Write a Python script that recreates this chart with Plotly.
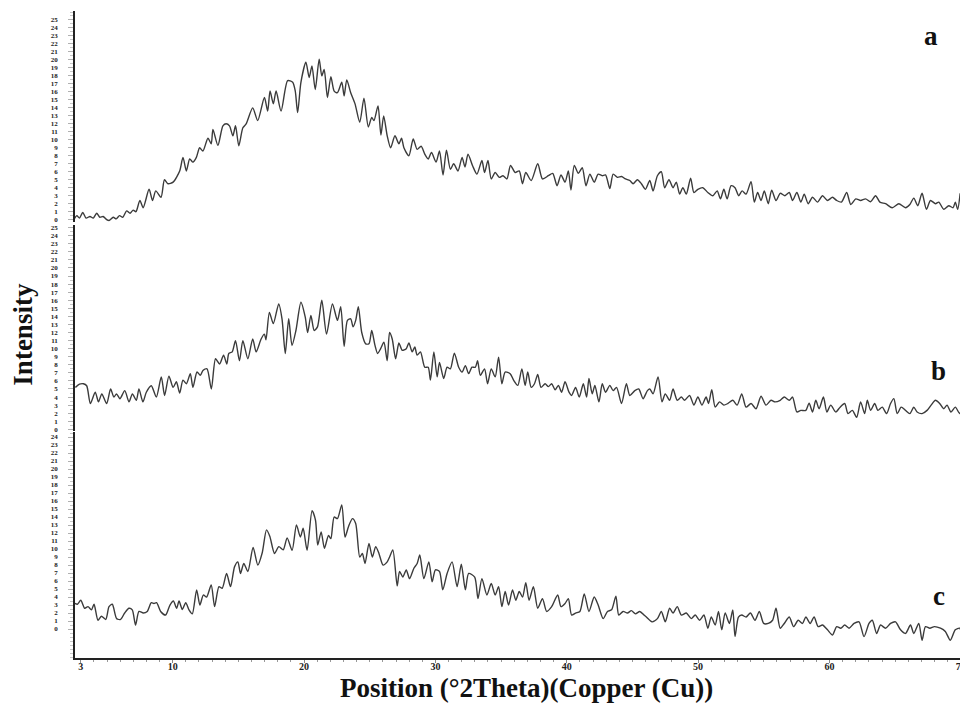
import plotly.graph_objects as go

# ---------------- data ----------------
A_X = [2.5, 2.7, 2.9, 3.15, 3.4, 3.7, 3.95, 4.21, 4.45, 4.7, 4.97, 5.15, 5.47, 5.7, 5.95, 6.2, 6.49, 6.75, 6.99, 7.2,
       7.5, 7.75, 8.2, 8.46, 8.71, 9.11, 9.37, 9.64, 10.03, 10.53, 10.78, 11.04, 11.29, 11.54, 11.8, 12.05, 12.3, 12.68,
       12.93, 13.06, 13.44, 13.82, 14.07, 14.32, 14.58, 14.78, 15.03, 15.34, 15.59, 16.09, 16.47, 16.98, 17.23, 17.41,
       17.66, 17.87, 18.25, 18.75, 19.13, 19.33, 19.51, 19.76, 20.14, 20.39, 20.6, 20.85, 21.15, 21.35, 21.53, 21.78,
       22.04, 22.29, 22.54, 22.87, 23.05, 23.25, 23.55, 23.88, 24.24, 24.56, 24.89, 25.15, 25.32, 25.63, 25.85, 26.06,
       26.33, 26.59, 26.92, 27.22, 27.42, 27.6, 27.98, 28.31, 28.61, 28.91, 29.19, 29.45, 29.7, 30.05, 30.31, 30.58,
       30.84, 31.14, 31.39, 31.72, 32.03, 32.25, 32.48, 32.83, 33.16, 33.54, 33.74, 34.0, 34.25, 34.55, 34.86, 35.14,
       35.44, 35.72, 36.07, 36.38, 36.63, 36.88, 37.29, 37.79, 38.15, 38.6, 38.93, 39.26, 39.56, 39.87, 40.12, 40.32,
       40.57, 40.88, 41.18, 41.46, 41.76, 42.09, 42.39, 42.7, 42.95, 43.28, 43.53, 43.86, 44.17, 44.47, 44.8, 45.05,
       45.38, 45.68, 45.99, 46.32, 46.57, 46.9, 47.2, 47.45, 47.78, 48.09, 48.34, 48.59, 48.84, 49.1, 49.43, 49.68,
       49.98, 50.36, 50.74, 51.12, 51.45, 51.7, 51.96, 52.21, 52.51, 52.81, 53.09, 53.35, 53.65, 54.03, 54.28, 54.53,
       54.79, 55.04, 55.34, 55.6, 55.93, 56.25, 56.61, 56.94, 57.19, 57.52, 57.82, 58.08, 58.38, 58.71, 59.09, 59.47,
       59.85, 60.23, 60.55, 60.91, 61.31, 61.62, 62.0, 62.37, 62.75, 63.13, 63.51, 63.84, 64.27, 64.78, 65.28, 65.79,
       66.12, 66.42, 66.72, 67.05, 67.38, 67.69, 68.07, 68.32, 68.7, 69.08, 69.41, 69.58, 69.76, 69.95]
A_Y = [0.1, 0.5, 0.2, 0.9, 0.2, 0.4, 0.2, 0.8, 0.3, 0.4, 0.0, -0.1, 0.3, 0.1, 0.5, 0.3, 1.1, 0.8, 1.2, 1.0,
       2.4, 1.5, 3.8, 2.4, 3.6, 2.8, 5.0, 4.5, 4.7, 6.1, 7.8, 6.1, 7.6, 7.2, 7.8, 9.0, 8.6, 10.2,
       9.5, 11.3, 9.3, 11.75, 12.0, 11.75, 10.5, 11.75, 9.25, 11.5, 12.0, 14.0, 12.4, 15.3, 13.6, 16.1,
       14.5, 16.1, 13.6, 17.4, 17.2, 16.1, 13.4, 17.2, 19.7, 17.8, 19.25, 16.3, 20.1, 18.0, 18.8, 15.3,
       17.9, 16.1, 15.9, 17.2, 15.5, 17.5, 15.9, 14.5, 12.2, 15.2, 11.6, 12.8, 12.4, 14.25, 10.6, 13.0,
       10.5, 9.0, 10.5, 9.5, 10.2, 9.0, 8.0, 10.1, 8.8, 9.2, 8.2, 7.6, 8.4, 7.2, 8.6, 5.6,
       8.7, 6.3, 7.0, 6.1, 7.8, 6.6, 8.2, 6.75, 5.7, 7.4, 5.9, 7.4, 5.1, 5.9, 5.3, 5.5,
       5.1, 6.8, 5.9, 6.1, 4.5, 5.9, 4.9, 7.0, 5.1, 5.5, 5.8, 4.25, 5.6, 4.7, 6.1, 3.7,
       6.8, 5.8, 6.5, 4.25, 5.7, 4.7, 5.7, 5.5, 5.6, 3.9, 5.7, 5.3, 5.4, 5.1, 4.9, 4.5,
       5.0, 4.5, 3.8, 4.9, 3.6, 5.5, 6.0, 4.0, 5.0, 4.0, 4.7, 3.2, 4.0, 3.2, 5.2, 3.4,
       3.8, 4.0, 3.4, 3.0, 3.6, 2.6, 3.8, 2.6, 4.25, 4.0, 3.0, 3.6, 3.2, 4.75, 2.2, 3.4,
       2.4, 3.6, 2.0, 3.7, 2.4, 3.3, 3.0, 3.4, 2.4, 3.4, 2.2, 3.2, 2.0, 2.8, 2.2, 3.0,
       2.4, 2.8, 2.4, 2.2, 3.4, 1.9, 2.6, 2.4, 2.6, 2.25, 3.0, 2.2, 2.0, 1.5, 2.0, 1.5,
       1.9, 2.7, 1.75, 3.3, 1.3, 2.4, 2.0, 2.2, 1.3, 1.75, 1.5, 2.2, 1.3, 3.3]

B_X = [2.59, 2.9, 3.2, 3.45, 3.73, 4.1, 4.35, 4.6, 4.97, 5.27, 5.52, 5.72, 5.98, 6.35, 6.67, 6.93, 7.23, 7.43, 7.73,
       7.99, 8.37, 8.75, 9.13, 9.38, 9.71, 10.03, 10.28, 10.53, 10.78, 11.04, 11.34, 11.54, 11.85, 12.1, 12.3, 12.61,
       12.94, 13.26, 13.57, 13.87, 14.12, 14.27, 14.53, 14.78, 15.08, 15.34, 15.72, 16.09, 16.35, 16.73, 16.98, 17.1,
       17.36, 17.66, 18.07, 18.32, 18.57, 18.83, 19.08, 19.38, 19.76, 20.09, 20.27, 20.52, 20.77, 21.02, 21.35, 21.71,
       22.16, 22.54, 22.79, 23.05, 23.3, 23.55, 23.73, 23.93, 24.13, 24.39, 24.69, 24.94, 25.15, 25.4, 25.6, 25.83,
       26.08, 26.33, 26.51, 26.71, 26.97, 27.22, 27.47, 27.78, 27.98, 28.23, 28.43, 28.61, 28.86, 29.19, 29.45, 29.62,
       29.88, 30.13, 30.31, 30.63, 30.89, 31.14, 31.44, 31.77, 32.03, 32.28, 32.53, 32.78, 33.04, 33.21, 33.42, 33.74,
       33.97, 34.25, 34.55, 34.81, 35.06, 35.31, 35.69, 35.95, 36.27, 36.58, 36.83, 37.03, 37.29, 37.54, 37.79, 38.04,
       38.35, 38.6, 38.85, 39.11, 39.36, 39.61, 39.87, 40.17, 40.37, 40.67, 40.95, 41.26, 41.51, 41.69, 41.94, 42.14,
       42.45, 42.7, 42.95, 43.28, 43.53, 43.79, 44.17, 44.54, 44.8, 45.18, 45.48, 45.81, 46.14, 46.32, 46.57, 46.95,
       47.25, 47.5, 47.83, 48.09, 48.41, 48.72, 48.97, 49.35, 49.68, 49.98, 50.29, 50.61, 50.79, 51.04, 51.3, 51.63,
       51.96, 52.26, 52.64, 52.97, 53.32, 53.65, 54.03, 54.41, 54.79, 55.17, 55.55, 55.85, 56.25, 56.56, 56.94, 57.19,
       57.52, 57.82, 58.2, 58.45, 58.71, 58.96, 59.21, 59.54, 59.8, 60.1, 60.48, 60.81, 61.16, 61.41, 61.74, 62.07,
       62.37, 62.68, 62.88, 63.13, 63.44, 63.69, 64.02, 64.35, 64.65, 64.9, 65.16, 65.46, 65.79, 66.12, 66.42, 66.67,
       67.05, 67.43, 67.74, 68.07, 68.39, 68.7, 68.95, 69.25, 69.58, 69.91, 70.05]
B_Y = [5.2, 5.6, 5.65, 5.4, 3.2, 4.6, 3.4, 4.4, 3.2, 5.0, 4.0, 4.4, 3.8, 4.8, 3.4, 4.4, 3.6, 5.0, 3.4,
       4.6, 5.4, 4.0, 6.5, 4.2, 6.6, 5.2, 5.9, 4.5, 6.1, 5.65, 6.9, 5.2, 7.1, 6.7, 7.3, 7.5,
       5.0, 8.75, 8.1, 9.2, 8.1, 9.4, 9.6, 11.0, 8.5, 11.0, 8.75, 11.2, 9.6, 11.2, 11.8, 11.1,
       14.5, 13.1, 15.55, 13.7, 9.4, 13.7, 10.4, 12.25, 15.75, 13.9, 12.0, 14.1, 12.25, 12.7, 16.0, 11.8,
       15.55, 13.5, 15.2, 10.3, 13.5, 13.7, 12.7, 13.5, 15.2, 12.0, 10.6, 10.6, 12.25, 10.4, 9.4, 10.0,
       10.8, 8.5, 12.0, 11.2, 8.75, 10.7, 9.8, 10.0, 10.7, 9.6, 10.2, 9.2, 9.6, 7.7, 7.7, 6.1,
       9.6, 6.5, 8.3, 6.3, 7.7, 7.5, 9.45, 7.7, 7.1, 7.9, 6.9, 7.7, 7.7, 8.5, 6.7, 7.5,
       5.65, 7.5, 6.5, 8.95, 5.65, 7.1, 6.9, 6.1, 5.45, 7.5, 5.45, 7.1, 5.2, 5.65, 6.8, 5.2,
       5.65, 5.3, 5.65, 4.9, 5.45, 4.6, 5.9, 4.6, 4.2, 5.2, 4.0, 5.65, 4.0, 6.3, 4.4, 5.45,
       3.4, 5.65, 4.6, 5.45, 4.8, 5.2, 3.2, 5.65, 4.2, 4.8, 5.0, 3.8, 4.8, 5.0, 4.4, 6.5,
       3.4, 4.4, 3.6, 5.0, 3.6, 4.0, 3.6, 4.2, 3.0, 4.0, 3.0, 4.0, 3.2, 4.9, 2.75, 3.4,
       3.0, 3.2, 3.6, 3.0, 4.4, 2.75, 3.2, 2.55, 4.1, 3.0, 3.6, 3.4, 3.6, 4.0, 3.6, 4.0,
       2.15, 2.35, 2.35, 3.25, 2.15, 3.6, 2.55, 4.0, 2.15, 3.0, 2.15, 2.75, 3.2, 1.95, 2.35, 1.5,
       3.4, 1.95, 3.6, 2.35, 3.2, 2.35, 2.75, 1.95, 3.2, 3.8, 1.95, 2.75, 2.35, 1.95, 2.75, 2.15,
       1.95, 2.35, 3.0, 3.6, 3.2, 2.55, 3.0, 2.15, 2.75, 1.95, 2.55]

C_X = [2.54, 2.74, 3.0, 3.3, 3.55, 3.81, 4.01, 4.31, 4.57, 4.9, 5.15, 5.4, 5.73, 6.03, 6.34, 6.67, 6.92, 7.17, 7.43,
       7.76, 8.06, 8.37, 8.57, 8.77, 9.08, 9.46, 9.79, 10.05, 10.3, 10.48, 10.73, 10.99, 11.24, 11.49, 11.82, 12.07,
       12.33, 12.58, 12.93, 13.19, 13.52, 13.77, 14.1, 14.4, 14.71, 14.96, 15.16, 15.41, 15.72, 16.12, 16.48, 16.81,
       17.14, 17.39, 17.75, 18.08, 18.41, 18.71, 19.09, 19.42, 19.72, 19.93, 20.23, 20.61, 20.87, 21.04, 21.3, 21.55,
       21.86, 22.04, 22.29, 22.54, 22.87, 23.12, 23.38, 23.68, 23.93, 24.24, 24.44, 24.64, 24.94, 25.2, 25.45, 25.7,
       26.01, 26.33, 26.51, 26.76, 27.09, 27.27, 27.52, 27.78, 28.03, 28.36, 28.61, 28.81, 29.12, 29.5, 29.75, 30.0,
       30.31, 30.56, 30.89, 31.27, 31.65, 31.97, 32.28, 32.53, 32.99, 33.24, 33.54, 33.92, 34.25, 34.55, 34.81, 35.06,
       35.31, 35.57, 35.87, 36.12, 36.38, 36.63, 36.88, 37.13, 37.46, 37.79, 38.15, 38.47, 38.85, 39.31, 39.56, 39.87,
       40.12, 40.37, 40.67, 41.0, 41.33, 41.69, 42.09, 42.39, 42.77, 43.1, 43.41, 43.74, 43.96, 44.29, 44.62, 44.92,
       45.23, 45.56, 45.88, 46.06, 46.49, 46.9, 47.2, 47.5, 47.83, 48.09, 48.41, 48.72, 49.1, 49.48, 49.78, 50.11,
       50.44, 50.74, 51.0, 51.3, 51.55, 51.8, 52.06, 52.38, 52.64, 52.81, 53.07, 53.32, 53.65, 53.98, 54.33, 54.66,
       54.99, 55.34, 55.67, 55.93, 56.25, 56.56, 56.94, 57.27, 57.62, 57.95, 58.2, 58.53, 58.83, 59.14, 59.47, 59.85,
       60.23, 60.55, 60.86, 61.16, 61.49, 61.87, 62.25, 62.63, 63.01, 63.26, 63.59, 63.89, 64.27, 64.65, 65.03, 65.41,
       65.79, 66.17, 66.42, 66.8, 67.05, 67.31, 67.64, 67.99, 68.45, 68.82, 69.2, 69.58, 69.91, 70.05]
C_Y = [3.2, 3.1, 3.6, 2.6, 2.8, 2.4, 3.1, 1.1, 1.6, 1.2, 2.8, 3.1, 1.3, 1.2, 2.0, 2.6, 2.4, 0.5, 2.2,
       2.0, 2.2, 3.3, 3.2, 3.3, 2.2, 1.75, 3.0, 3.5, 2.6, 3.5, 2.45, 3.3, 2.4, 1.9, 4.9, 3.0,
       4.25, 4.0, 5.5, 2.8, 5.3, 5.1, 6.95, 5.3, 7.8, 8.4, 6.95, 8.2, 7.2, 10.2, 8.0, 9.5,
       12.4, 11.6, 9.45, 10.3, 9.9, 11.4, 9.85, 13.0, 11.5, 12.6, 9.85, 14.8, 13.6, 10.5, 12.15, 10.1,
       11.7, 11.3, 14.0, 13.8, 15.5, 11.5, 12.8, 13.8, 13.2, 9.0, 9.45, 8.2, 10.7, 9.0, 10.3, 9.45,
       8.0, 8.4, 9.0, 9.9, 5.4, 7.2, 6.5, 7.4, 6.3, 7.6, 8.2, 9.25, 6.3, 8.4, 5.9, 7.4,
       7.2, 4.9, 6.95, 8.4, 5.3, 8.1, 4.9, 6.95, 6.5, 3.8, 6.3, 4.25, 5.7, 4.25, 5.3, 2.8,
       4.7, 3.0, 4.9, 3.6, 4.7, 4.0, 5.8, 3.6, 5.3, 2.6, 3.8, 2.2, 2.8, 4.25, 2.8, 3.2,
       3.8, 1.75, 2.0, 2.2, 4.4, 2.2, 4.0, 3.0, 1.3, 2.2, 2.4, 4.1, 1.75, 2.2, 2.0, 2.3,
       1.9, 2.2, 1.75, 1.5, 0.9, 1.3, 2.2, 0.9, 2.6, 2.0, 2.8, 1.75, 2.0, 1.3, 1.75, 1.1,
       1.75, 0.1, 1.5, 0.5, 2.2, -0.1, 2.0, 0.7, 2.4, -0.95, 1.5, 1.75, 1.5, 2.0, 1.1, 2.2,
       0.7, 0.7, 1.1, 2.6, 0.1, 0.7, 1.5, 0.3, 1.1, 0.7, 1.5, 0.7, 1.5, 0.3, 0.5, -0.1,
       -0.75, 0.3, 0.1, 0.5, 0.1, 0.7, 0.9, -0.95, 0.7, 1.1, -0.55, 0.5, 0.1, 0.7, 0.9, -0.1,
       -0.55, 0.5, -0.55, 0.7, -1.4, 0.3, 0.1, 0.3, 0.1, -0.3, -1.4, -0.1, 0.1, -0.55]

X_TICKS = [3, 10, 20, 30, 40, 50, 60, 70]
A_TICKS = list(range(0, 26))
B_TICKS = list(range(0, 26))
C_TICKS = list(range(0, 25))
PANEL_LABELS = ["a", "b", "c"]
X_TITLE = "Position (°2Theta)(Copper (Cu))"
Y_TITLE = "Intensity"

# ---------------- figure ----------------
SERIF = "Liberation Serif"
LINE = dict(color="#3b3b3b", width=1.4, shape="spline", smoothing=0.7)
XR = [2.56, 70.09]

fig = go.Figure()
for xs, ys, xa, ya in [(A_X, A_Y, "x", "y"), (B_X, B_Y, "x2", "y2"), (C_X, C_Y, "x3", "y3")]:
    fig.add_trace(go.Scatter(x=xs, y=ys, xaxis=xa, yaxis=ya, mode="lines", line=LINE,
                             showlegend=False, hoverinfo="skip"))


def yax(domain, rng, ticks):
    return dict(domain=domain, range=rng, tickmode="array", tickvals=ticks,
                showline=True, linecolor="#222222", linewidth=1.6, mirror=False,
                ticks="outside", ticklen=5, tickwidth=1, tickcolor="#b0b0b0",
                ticklabelstandoff=9,
                tickfont=dict(family=SERIF, size=7, color="#222222", weight="bold"),
                minor=dict(ticks="outside", ticklen=3, tickwidth=1, tickcolor="#c8c8c8",
                           tick0=0, dtick=0.5, showgrid=False),
                showgrid=False, zeroline=False, fixedrange=True)


hidden_x = dict(range=XR, visible=False, showgrid=False, zeroline=False)

# the page body adds an 8 px offset; the figure is sized to fill the rest of the window
fig.update_layout(
    width=960, height=699,
    margin=dict(l=67, r=3, t=2, b=49),
    paper_bgcolor="white", plot_bgcolor="white",
    xaxis=dict(hidden_x, anchor="y"),
    xaxis2=dict(hidden_x, anchor="y2"),
    xaxis3=dict(range=XR, anchor="y3", tickmode="array", tickvals=X_TICKS,
                showline=True, linecolor="#222222", linewidth=1.6,
                ticks="outside", ticklen=3, tickcolor="#888888",
                ticklabelstandoff=-5, ticklabeloverflow="allow",
                tickfont=dict(family=SERIF, size=10, color="#222222", weight="bold"),
                minor=dict(ticks="outside", ticklen=2, tickcolor="#999999", tick0=0, dtick=1),
                showgrid=False, zeroline=False, fixedrange=True),
    yaxis=yax([0.6744, 1.0], [-0.25, 26.125], A_TICKS),
    yaxis2=yax([0.3503, 0.6698], [-0.25, 25.37], B_TICKS),
    yaxis3=yax([0.0, 0.3488], [-3.62, 24.59], C_TICKS),
)

ann_font = dict(family=SERIF, size=27, color="#111111", weight="bold")
label_pos = [(0.965, 0.961), (0.974, 0.444), (0.974, 0.0957)]
for txt, (lx, ly) in zip(PANEL_LABELS, label_pos):
    fig.add_annotation(text=txt, x=lx, y=ly, xref="paper", yref="paper", showarrow=False,
                       xanchor="center", yanchor="middle", font=ann_font)

fig.add_annotation(text=X_TITLE, x=0.509, y=-0.047, xref="paper", yref="paper", showarrow=False,
                   xanchor="center", yanchor="middle", font=ann_font)
fig.add_annotation(text=Y_TITLE, x=-0.0596, y=0.50, xref="paper", yref="paper", showarrow=False,
                   xanchor="center", yanchor="middle", textangle=-90, font=ann_font)

fig.write_html("out.html")
